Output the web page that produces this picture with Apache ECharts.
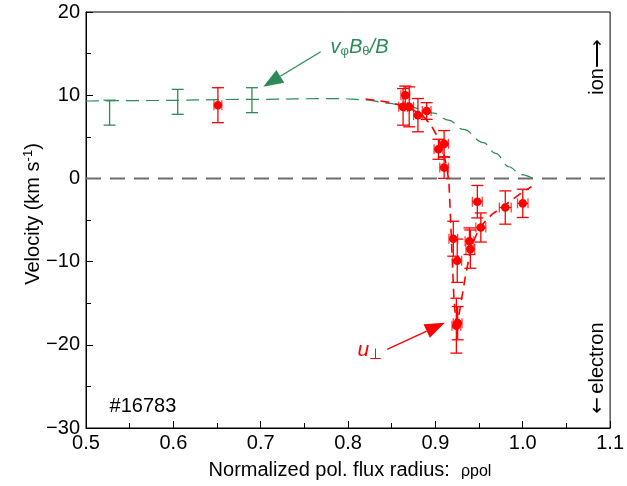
<!DOCTYPE html>
<html><head><meta charset="utf-8">
<script src="https://cdn.jsdelivr.net/npm/echarts@6/dist/echarts.min.js"></script>
<style>html,body{margin:0;padding:0;background:#fff}#c{width:627px;height:486px}</style>
</head><body><div id="c"></div>
<script>
// ---- data ----
const xTicks = [0.5, 0.6, 0.7, 0.8, 0.9, 1.0, 1.1];
const yTicks = [-30, -20, -10, 0, 10, 20];

// v_phi B_theta / B (green error bars, no markers)
const greenX = [0.527, 0.605, 0.690];
const greenY = [7.9, 9.2, 9.4];
const greenErr = [1.5, 1.5, 1.5];

// u_perp measurements (red points)
const redX    = [0.651, 0.8655, 0.863, 0.870, 0.880, 0.890, 0.9035, 0.910, 0.910, 0.9205, 0.925, 0.924, 0.9255, 0.939, 0.940, 0.948, 0.952, 0.980, 1.000];
const redY    = [8.8, 10.0, 8.6, 8.6, 7.6, 8.1, 3.5, 4.15, 1.3, -7.25, -9.9, -17.7, -17.4, -7.55, -8.5, -2.8, -5.9, -3.5, -3.0];
const redYErr = [2.1, 1.1, 2.2, 2.4, 2.0, 1.0, 1.2, 1.6, 1.3, 2.1, 2.6, 3.3, 2.0, 1.6, 2.3, 1.95, 1.75, 2.0, 1.7];
const redXErr = [0.0045, 0.005, 0.005, 0.005, 0.005, 0.005, 0.005, 0.005, 0.005, 0.005, 0.005, 0.005, 0.005, 0.005, 0.005, 0.0057, 0.0057, 0.0068, 0.006];

// dashed model curves
const greenCurveX = [0.50, 0.573, 0.686, 0.788, 0.820, 0.845, 0.870, 0.898, 0.915, 0.932, 0.955, 0.969, 0.984, 0.998, 1.011];
const greenCurveY = [9.3, 9.36, 9.5, 9.6, 9.45, 9.05, 8.6, 7.85, 7.0, 5.9, 4.3, 3.0, 1.4, 0.45, 0.05];
const redCurveX = [0.820, 0.850, 0.870, 0.885, 0.895, 0.903, 0.909, 0.913, 0.9155, 0.917, 0.919, 0.921, 0.9235, 0.926, 0.930, 0.934, 0.938, 0.942, 0.948, 0.955, 0.965, 0.980, 0.995, 1.010];
const redCurveY = [9.55, 9.1, 8.5, 7.6, 6.4, 4.9, 3.2, 1.4, -0.5, -4.0, -9.0, -14.0, -17.5, -17.0, -14.5, -12.0, -9.8, -8.0, -6.5, -5.4, -4.3, -3.2, -2.0, -1.0];

// zero reference
const zeroX = [0.5, 1.1];
const zeroY = [0, 0];

// ---- chart ----
const FONT = 'Liberation Sans, Arial, sans-serif';
const GREEN = '#2e8b57';
const RED = '#ff0000';
const chart = echarts.init(document.getElementById('c'), null, {renderer: 'canvas'});

function zip(a, b, c, d) { return a.map((v, i) => d ? [v, b[i], c[i], d[i]] : (c ? [v, b[i], c[i]] : [v, b[i]])); }

function errRender(color, withMarker) {
  return function (params, api) {
    const x = api.value(0), y = api.value(1), ey = api.value(2);
    const ex = withMarker ? api.value(3) : 0;
    const c = api.coord([x, y]);
    const t = api.coord([x, y + ey]);
    const b = api.coord([x, y - ey]);
    const cap = 6;
    const sty = {stroke: color, lineWidth: 1.3};
    const ch = [
      {type: 'line', shape: {x1: c[0], y1: t[1], x2: c[0], y2: b[1]}, style: sty},
      {type: 'line', shape: {x1: c[0] - cap, y1: t[1], x2: c[0] + cap, y2: t[1]}, style: sty},
      {type: 'line', shape: {x1: c[0] - cap, y1: b[1], x2: c[0] + cap, y2: b[1]}, style: sty}
    ];
    if (withMarker) {
      const l = api.coord([x - ex, y]), r = api.coord([x + ex, y]);
      const sty2 = {stroke: color, lineWidth: 1.3, opacity: 0.75};
      ch.push({type: 'line', shape: {x1: l[0], y1: c[1], x2: r[0], y2: c[1]}, style: sty});
      ch.push({type: 'line', shape: {x1: l[0], y1: c[1] - 5, x2: l[0], y2: c[1] + 5}, style: sty2});
      ch.push({type: 'line', shape: {x1: r[0], y1: c[1] - 5, x2: r[0], y2: c[1] + 5}, style: sty2});
      ch.push({type: 'circle', shape: {cx: c[0], cy: c[1], r: 4.3}, style: {fill: color}});
    }
    return {type: 'group', children: ch};
  };
}

const option = {
  animation: false,
  backgroundColor: '#fff',
  grid: {left: 86, top: 12, right: 12, bottom: 58, show: true, borderColor: '#000', borderWidth: 1, backgroundColor: 'transparent'},
  xAxis: {
    type: 'value', min: xTicks[0], max: xTicks[xTicks.length - 1], interval: 0.1,
    axisLine: {show: true, onZero: false, lineStyle: {color: '#000', width: 1}},
    axisTick: {show: true, inside: true, length: 7, lineStyle: {color: '#000'}},
    minorTick: {show: true, splitNumber: 2, length: 5, lineStyle: {color: '#000'}},
    splitLine: {show: false},
    axisLabel: {color: '#000', fontSize: 20, fontFamily: FONT, margin: 5, formatter: v => v.toFixed(1)}
  },
  yAxis: {
    type: 'value', min: yTicks[0], max: yTicks[yTicks.length - 1], interval: 10,
    axisLine: {show: true, onZero: false, lineStyle: {color: '#000', width: 1}},
    axisTick: {show: true, inside: true, length: 7, lineStyle: {color: '#000'}},
    minorTick: {show: true, splitNumber: 2, length: 5, lineStyle: {color: '#000'}},
    splitLine: {show: false},
    axisLabel: {color: '#000', fontSize: 20, fontFamily: FONT, margin: 6,
      formatter: v => v < 0 ? '\u2212' + Math.abs(v) : String(v)}
  },
  series: [
    {type: 'line', data: zip(zeroX, zeroY), symbol: 'none', silent: true,
      lineStyle: {color: '#6e6e6e', width: 2, type: [15, 9]}, z: 1},
    {type: 'line', data: zip(greenCurveX, greenCurveY), symbol: 'none', smooth: 0.4, smoothMonotone: 'x', silent: true,
      lineStyle: {color: GREEN, width: 1.2, type: [13, 7]}, z: 2},
    {type: 'line', data: zip(redCurveX, redCurveY), symbol: 'none', smooth: false, silent: true,
      lineStyle: {color: RED, width: 1.6, type: [9, 6]}, z: 3},
    {type: 'custom', data: zip(greenX, greenY, greenErr), renderItem: errRender(GREEN, false), z: 4, silent: true},
    {type: 'custom', data: zip(redX, redY, redYErr, redXErr), renderItem: errRender(RED, true), z: 5, silent: true}
  ]
};
chart.setOption(option);

// ---- annotations ----
function px(p) { return chart.convertToPixel({gridIndex: 0}, p); }
function arrow(from, to, color) {
  const a = px(from), b = px(to);
  const dx = b[0] - a[0], dy = b[1] - a[1];
  const len = Math.hypot(dx, dy), ux = dx / len, uy = dy / len;
  const L = 20, W = 7.5;
  const bx = b[0] - L * ux, by = b[1] - L * uy;
  return [
    {type: 'line', shape: {x1: a[0], y1: a[1], x2: bx, y2: by}, style: {stroke: color, lineWidth: 1.3}, silent: true},
    {type: 'polygon', shape: {points: [[b[0], b[1]], [bx - W * uy, by + W * ux], [bx + W * uy, by - W * ux]]}, style: {fill: color}, silent: true}
  ];
}
const gLab = px([0.780, 15.8]);
const uLab = px([0.8107, -20.6]);
const idLab = px([0.527, -27.4]);
const ionLab = px([1.0855, 13.4]);
const eleLab = px([1.0855, -22.8]);
const graphics = [].concat(
  arrow([0.7687, 15.23], [0.7029, 11.02], GREEN),
  arrow([0.8447, -20.54], [0.9108, -17.34], RED),
  [
    {type: 'text', x: gLab[0], y: gLab[1], silent: true, style: {
      text: '{i|v}{s|\u03C6}{i|B}{s|\u03B8}{i|/B}', align: 'left', verticalAlign: 'middle',
      rich: {i: {fontSize: 20, fontStyle: 'italic', fontFamily: FONT, fill: GREEN, lineHeight: 28},
             s: {fontSize: 13, fontFamily: FONT, fill: GREEN, padding: [9, 0, 0, 0]}}}},
    {type: 'text', x: uLab[0], y: uLab[1], silent: true, style: {
      text: '{i|u}{s|\u22A5}', align: 'left', verticalAlign: 'middle',
      rich: {i: {fontSize: 21, fontStyle: 'italic', fontFamily: FONT, fill: RED, lineHeight: 30},
             s: {fontSize: 15, fontFamily: FONT, fill: RED, padding: [10, 0, 0, 0]}}}},
    {type: 'text', x: idLab[0], y: idLab[1], silent: true, style: {
      text: '#16783', fontSize: 20, fontFamily: FONT, fill: '#000', align: 'left', verticalAlign: 'middle'}},
    {type: 'text', x: ionLab[0], y: ionLab[1], rotation: Math.PI / 2, silent: true, style: {
      text: 'ion\u27F6', fontSize: 20, fontFamily: FONT, fill: '#000', align: 'center', verticalAlign: 'middle'}},
    {type: 'text', x: eleLab[0], y: eleLab[1], rotation: Math.PI / 2, silent: true, style: {
      text: '{a|\u2190} {n|electron}', align: 'center', verticalAlign: 'middle',
      rich: {a: {fontSize: 20, fontFamily: 'DejaVu Sans', fill: '#000'},
             n: {fontSize: 20, fontFamily: FONT, fill: '#000'}}}},
    {type: 'text', x: 33, y: 214, rotation: Math.PI / 2, silent: true, style: {
      text: '{n|Velocity (km s}{sup|-1}{n|)}', align: 'center', verticalAlign: 'middle',
      rich: {n: {fontSize: 20, fontFamily: FONT, fill: '#000', lineHeight: 28},
             sup: {fontSize: 13, fontFamily: FONT, fill: '#000', padding: [0, 0, 10, 0]}}}},
    {type: 'text', x: 350, y: 470, silent: true, style: {
      text: '{n|Normalized pol. flux radius:  }{r|\u03C1pol}', align: 'center', verticalAlign: 'middle',
      rich: {n: {fontSize: 20, fontFamily: FONT, fill: '#000', lineHeight: 28},
             r: {fontSize: 16, fontFamily: FONT, fill: '#000', padding: [4, 0, 0, 0]}}}}
  ]
);
chart.setOption({graphic: graphics});
</script>
</body></html>
